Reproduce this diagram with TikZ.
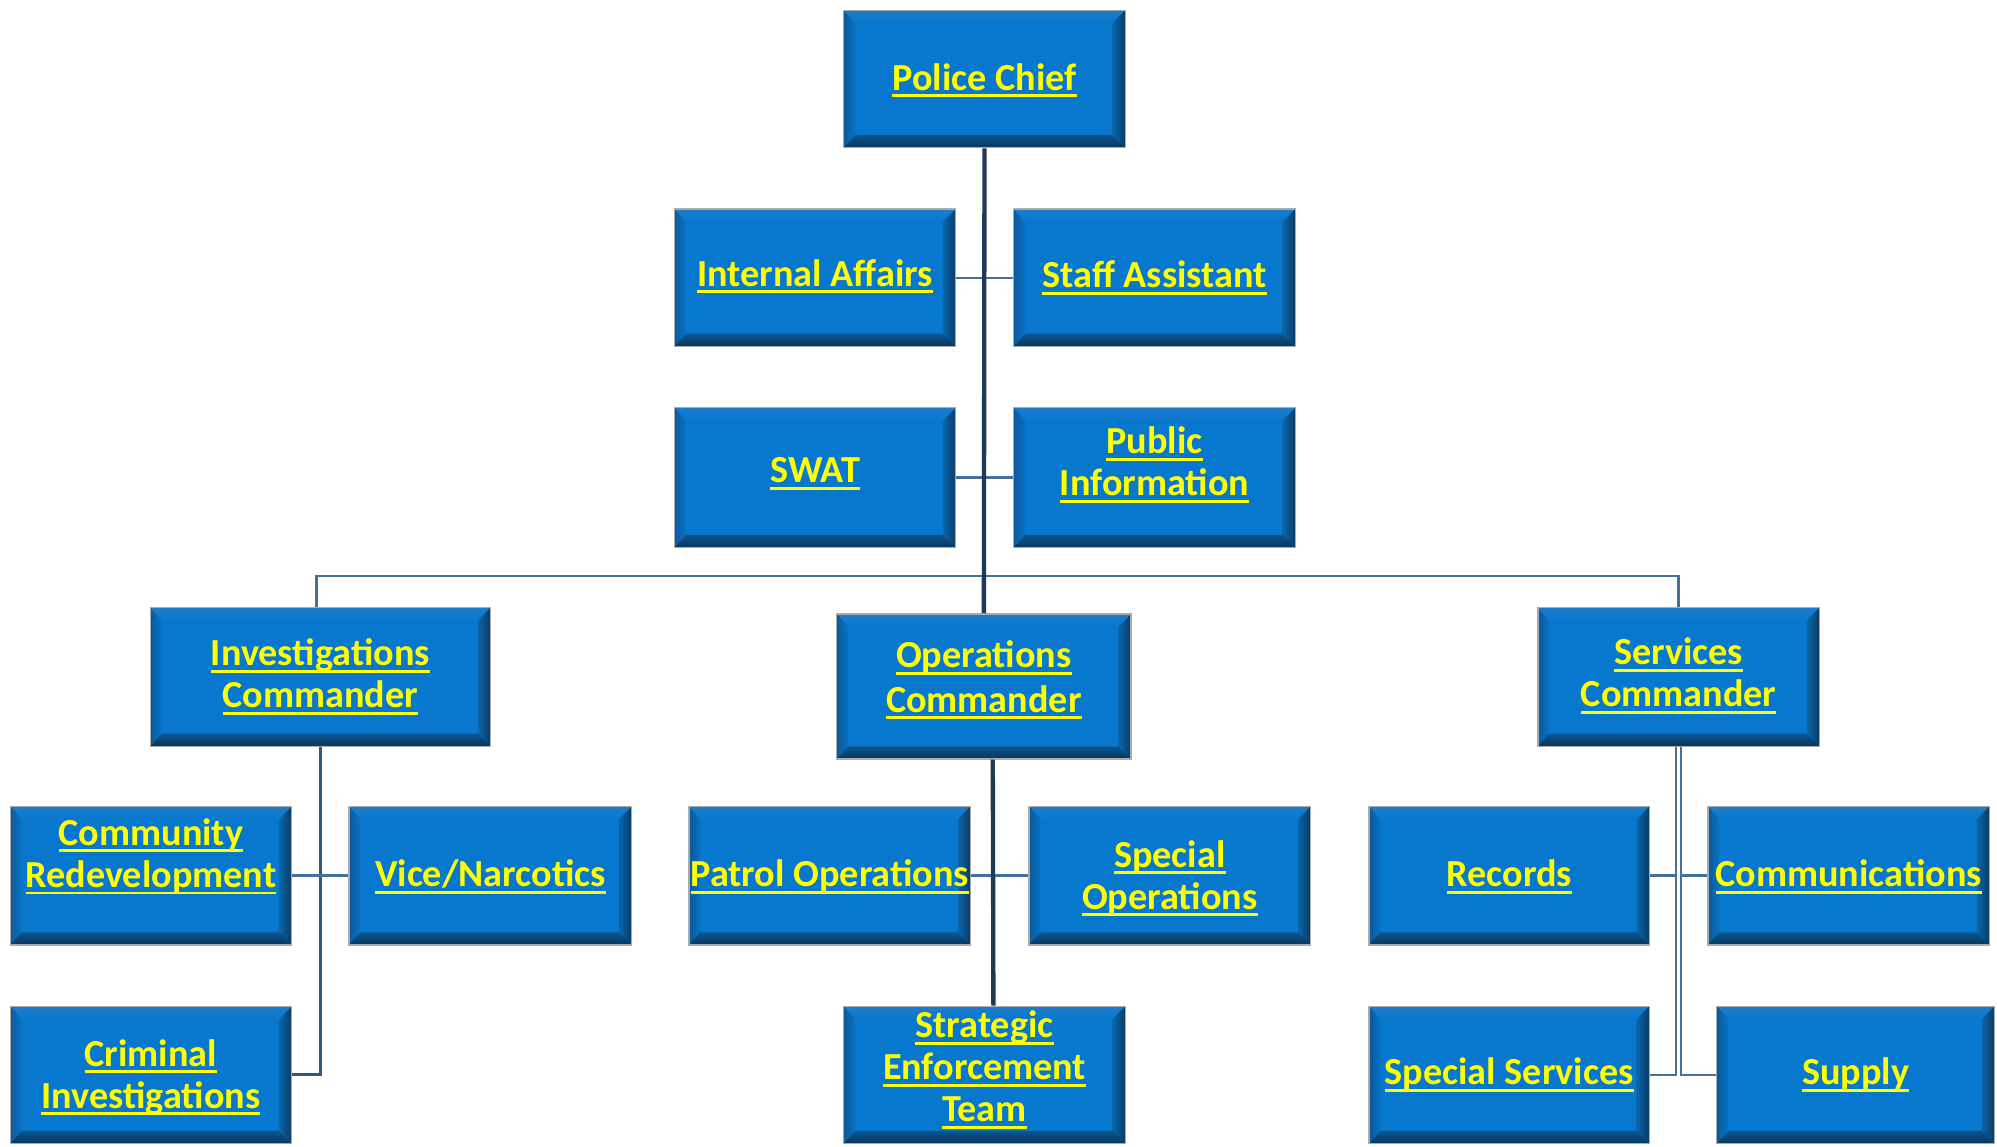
\documentclass[tikz,border=0pt]{standalone}
\usepackage{fontspec}
\setmainfont{Carlito}
\usetikzlibrary{calc}
\definecolor{boxblue}{HTML}{0878CE}
\definecolor{bevtopA}{HTML}{1C7CCB}
\definecolor{bevtopB}{HTML}{3FA8F6}
\definecolor{bevbotA}{HTML}{0A5590}
\definecolor{bevbotB}{HTML}{0A3559}
\definecolor{bevleftA}{HTML}{0A5A9C}
\definecolor{bevleftB}{HTML}{0872C4}
\definecolor{bevrightA}{HTML}{0A66AC}
\definecolor{bevrightB}{HTML}{0A3A62}
\definecolor{edgegray}{HTML}{ABABAB}
\definecolor{trunkcol}{HTML}{1E3A56}
\definecolor{midcol}{HTML}{2C5A80}
\definecolor{thincol}{HTML}{44709A}
\definecolor{txtyellow}{HTML}{FFFF00}
\newcommand\ulin[1]{\setbox0=\hbox{#1}\rlap{\rule[-5.5pt]{\wd0}{2.3pt}}\box0}
\newcommand\bevelcode{%
  \coordinate (bNW) at (path picture bounding box.north west);
  \coordinate (bNE) at (path picture bounding box.north east);
  \coordinate (bSW) at (path picture bounding box.south west);
  \coordinate (bSE) at (path picture bounding box.south east);
  \shade[left color=bevleftA, right color=bevleftB] (bNW) -- (bSW) -- ($(bSW)+(9pt,10pt)$) -- ($(bNW)+(9pt,-10pt)$) -- cycle;
  \shade[left color=bevrightA, right color=bevrightB] (bNE) -- (bSE) -- ($(bSE)+(-10pt,10pt)$) -- ($(bNE)+(-10pt,-10pt)$) -- cycle;
  \shade[top color=bevtopA, middle color=bevtopB, bottom color=boxblue] (bNW) -- (bNE) -- ($(bNE)+(-10pt,-10pt)$) -- ($(bNW)+(9pt,-10pt)$) -- cycle;
  \shade[top color=bevbotA, bottom color=bevbotB] (bSW) -- (bSE) -- ($(bSE)+(-10pt,10pt)$) -- ($(bSW)+(9pt,10pt)$) -- cycle;
}
\tikzset{
  orgbox/.style={rectangle, draw=edgegray, line width=1pt, fill=boxblue,
    minimum width=221pt, minimum height=108pt, inner sep=0pt,
    path picture={\bevelcode}},
  txt/.style={text=txtyellow, font=\bfseries\fontsize{30}{33}\selectfont, align=center, inner sep=0pt},
  thinline/.style={draw=thincol, line width=1.8pt},
  midline/.style={draw=midcol, line width=2.4pt},
  trunkline/.style={draw=trunkcol, line width=3.4pt},
}
\begin{document}
\begin{tikzpicture}[x=1pt,y=-1pt]
\useasboundingbox[fill=white] (0,0) rectangle (1568,900);

% boxes
\node[orgbox, label={[txt,yshift=-1pt]center:{\ulin{Police Chief}}}] (chief) at (773,62) {};
\node[orgbox, label={[txt,yshift=1pt]center:{\ulin{Internal Affairs}}}] (ia) at (640,218) {};
\node[orgbox, label={[txt]center:{\ulin{Staff Assistant}}}] (staff) at (906.5,218) {};
\node[orgbox, minimum height=110pt, label={[txt,yshift=3pt]center:{\ulin{SWAT}}}] (swat) at (640,375) {};
\node[orgbox, minimum height=110pt, label={[txt,yshift=10pt]center:{\ulin{Public}\\\ulin{Information}}}] (pubinfo) at (906.5,375) {};

\node[orgbox, minimum width=267pt, minimum height=109pt, label={[txt,yshift=0pt]center:{\ulin{Investigations}\\\ulin{Commander}}}] (inv) at (251.5,531.5) {};
\node[orgbox, minimum width=231pt, minimum height=114pt, label={[txt,font=\bfseries\fontsize{30}{35}\selectfont,yshift=5pt]center:{\ulin{Operations}\\\ulin{Commander}}}] (ops) at (772.5,539) {};
\node[orgbox, minimum height=109pt, label={[txt,yshift=1pt]center:{\ulin{Services}\\\ulin{Commander}}}] (svc) at (1318,531.5) {};

\node[orgbox, minimum height=109pt, label={[txt,yshift=15pt]center:{\ulin{Community}\\\ulin{Redevelopment}}}] (comm) at (118.5,687.5) {};
\node[orgbox, minimum width=222pt, minimum height=109pt, label={[txt,yshift=-1pt]center:{\ulin{Vice/Narcotics}}}] (vice) at (385,687.5) {};
\node[orgbox, label={[txt,yshift=-2pt]center:{\ulin{Criminal}\\\ulin{Investigations}}}] (crim) at (118.5,844) {};

\node[orgbox, minimum height=109pt, label={[txt,yshift=-1pt]center:{\ulin{Patrol Operations}}}] (patrol) at (651.5,687.5) {};
\node[orgbox, minimum height=109pt, label={[txt,yshift=-2pt]center:{\ulin{Special}\\\ulin{Operations}}}] (specops) at (918.5,687.5) {};
\node[orgbox, label={[txt,yshift=4pt]center:{\ulin{Strategic}\\\ulin{Enforcement}\\\ulin{Team}}}] (set) at (773,844) {};

\node[orgbox, minimum width=220pt, minimum height=109pt, label={[txt,yshift=-1pt]center:{\ulin{Records}}}] (records) at (1185,687.5) {};
\node[orgbox, minimum height=109pt, label={[txt,yshift=-1pt]center:{\ulin{Communications}}}] (comms) at (1451.5,687.5) {};
\node[orgbox, minimum width=220pt, label={[txt]center:{\ulin{Special Services}}}] (specsvc) at (1185,844) {};
\node[orgbox, minimum width=218pt, label={[txt]center:{\ulin{Supply}}}] (supply) at (1457,844) {};

% connectors
\draw[thinline] (ia.east) -- (staff.west);
\draw[thinline] (swat.east) -- (pubinfo.west);
\draw[thinline] ($(inv.north)+(-3,0)$) -- ++(0,-24) -| (svc.north);
\draw[trunkline] (chief.south) -- (ops.north);

\draw[midline] (inv.south) |- (crim.east);
\draw[thinline] (comm.east) -- (vice.west);

\draw[thinline] (patrol.east) -- (specops.west);
\draw[trunkline] ($(ops.south)+(7,0)$) -- ($(set.north)+(7,0)$);

\coordinate (svcL) at ($(svc.south)+(-2,0)$);
\coordinate (svcR) at ($(svc.south)+(2,0)$);
\draw[thinline] (svcL) |- (specsvc.east);
\draw[thinline] (svcR) |- (supply.west);
\draw[thinline] (records.east) -- (records.east -| svcL);
\draw[thinline] (comms.west) -- (comms.west -| svcR);
\end{tikzpicture}
\end{document}
